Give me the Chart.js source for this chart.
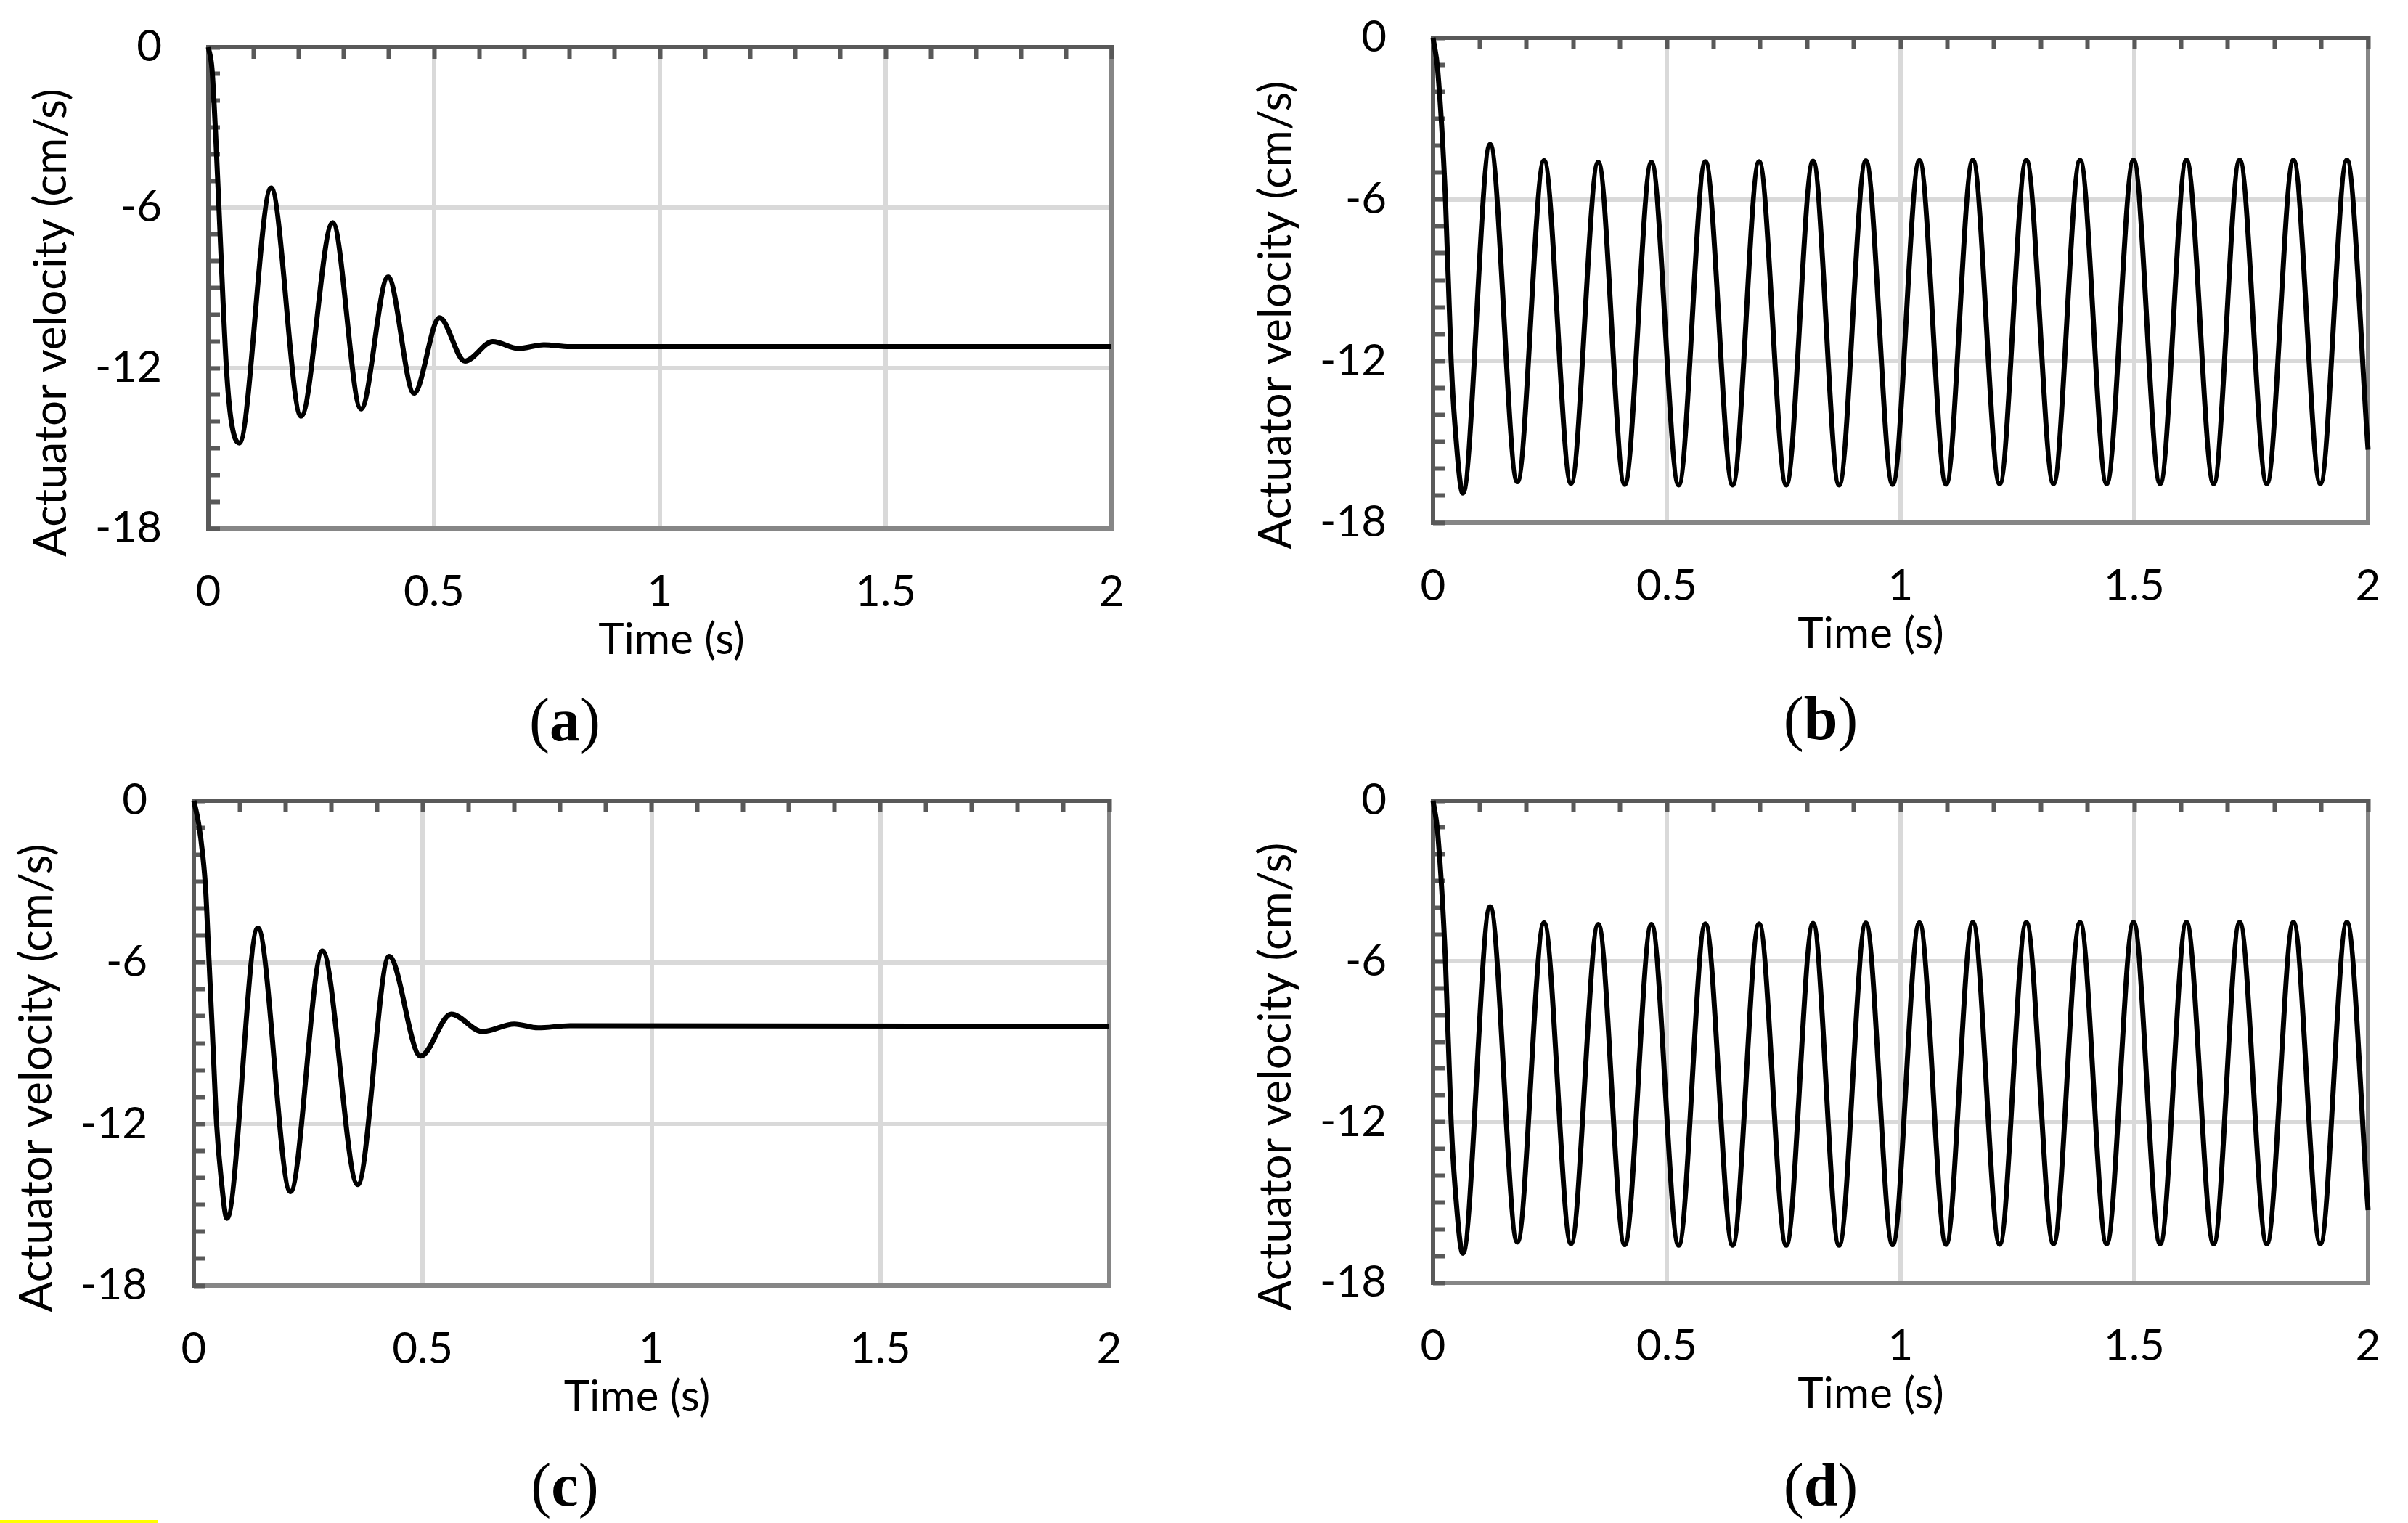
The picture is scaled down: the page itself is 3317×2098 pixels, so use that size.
<!DOCTYPE html>
<html><head><meta charset="utf-8">
<script src="https://cdn.jsdelivr.net/npm/chart.js@4.4.1/dist/chart.umd.min.js"></script>
<style>
html,body{margin:0;padding:0;background:#fff;}
body{width:3317px;height:2098px;position:relative;overflow:hidden;}
canvas{position:absolute;}
.lab{position:absolute;font-family:'Liberation Serif','Times New Roman',serif;font-size:84px;line-height:84px;white-space:nowrap;transform:translateX(-50%);color:#000;}
.mark{position:absolute;left:0;top:2094px;width:217px;height:4px;background:#ffff00;}
</style></head><body>
<div class="mark"></div>
<script>
// ---------- data ----------
const xTickValues = [0, 0.5, 1, 1.5, 2];
const yTickValues = [-18, -12, -6, 0];
const xTitle = 'Time (s)';
const yTitle = 'Actuator velocity (cm/s)';
const panelLetters = ['a', 'b', 'c', 'd'];

// (a)
const timeA = [0, 0.008, 0.016, 0.024, 0.032, 0.040, 0.050, 0.0685, 0.139, 0.2054, 0.2753, 0.338, 0.398, 0.4554, 0.512, 0.568, 0.630, 0.6866, 0.743, 0.80, 2.0];
const velA  = [0, -0.8, -3.2, -6.2, -9.3, -12.0, -13.9, -14.8, -5.27, -13.8, -6.56, -13.53, -8.59, -12.94, -10.12, -11.74, -11.01, -11.27, -11.13, -11.2, -11.2];

// (b)
const timeB = [0, 0.010, 0.0266, 0.0388, 0.047, 0.0638, 0.1221, 0.1803, 0.2374, 0.2951, 0.3534, 0.4100, 0.4671, 0.5254, 0.5825, 0.6408, 0.6974, 0.7556, 0.8128, 0.8686, 0.9258, 0.9830, 1.0403, 1.0975, 1.1545, 1.2120, 1.2690, 1.3271, 1.3840, 1.4409, 1.4983, 1.5552, 1.6116, 1.6696, 1.7254, 1.7834, 1.8403, 1.8978, 1.9547, 2.0];
const velB  = [0, -1.2, -6.0, -12.0, -14.4, -16.9, -3.96, -16.48, -4.56, -16.54, -4.62, -16.58, -4.62, -16.6, -4.6, -16.6, -4.6, -16.6, -4.58, -16.6, -4.57, -16.58, -4.56, -16.57, -4.55, -16.56, -4.55, -16.55, -4.55, -16.55, -4.54, -16.55, -4.54, -16.55, -4.54, -16.55, -4.54, -16.55, -4.54, -15.29];

// (c)
const timeC = [0, 0.0103, 0.0195, 0.0255, 0.0334, 0.042, 0.0498, 0.059, 0.0723, 0.1398, 0.211, 0.2809, 0.358, 0.4267, 0.4954, 0.5623, 0.6304, 0.7003, 0.752, 0.822, 2.0];
const velC  = [0, -0.83, -2.02, -3.2, -6.0, -9.14, -12.0, -13.9, -15.5, -4.73, -14.51, -5.58, -14.25, -5.78, -9.48, -7.92, -8.57, -8.29, -8.43, -8.35, -8.38];

// (d)
const timeD = [0, 0.010, 0.0266, 0.0388, 0.047, 0.0638, 0.1221, 0.1803, 0.2374, 0.2951, 0.3534, 0.4100, 0.4671, 0.5254, 0.5825, 0.6408, 0.6974, 0.7556, 0.8128, 0.8686, 0.9258, 0.9830, 1.0403, 1.0975, 1.1545, 1.2120, 1.2690, 1.3271, 1.3840, 1.4409, 1.4983, 1.5552, 1.6116, 1.6696, 1.7254, 1.7834, 1.8403, 1.8978, 1.9547, 2.0];
const velD  = [0, -1.2, -6.0, -12.0, -14.4, -16.9, -3.96, -16.48, -4.56, -16.54, -4.62, -16.58, -4.62, -16.6, -4.6, -16.6, -4.6, -16.6, -4.58, -16.6, -4.57, -16.58, -4.56, -16.57, -4.55, -16.56, -4.55, -16.55, -4.55, -16.55, -4.54, -16.55, -4.54, -16.55, -4.54, -16.55, -4.54, -16.55, -4.54, -15.29];

// ---------- layout (plot-area edges in page pixels) ----------
const layoutPanels = [
  {L: 287,  T: 65,   R: 1531, B: 728,  labX: 778,  labBase: 1019, xtShift: 16,  ytShift: 48},
  {L: 1974, T: 52,   R: 3262, B: 720,  labX: 2508, labBase: 1017, xtShift: -41, ytShift: 48},
  {L: 267,  T: 1103, R: 1528, B: 1771, labX: 778,  labBase: 2073, xtShift: -20, ytShift: 48},
  {L: 1974, T: 1103, R: 3262, B: 1767, labX: 2508, labBase: 2073, xtShift: -41, ytShift: 48}
];
const seriesList = [[timeA, velA], [timeB, velB], [timeC, velC], [timeD, velD]];

const FONT = {family: 'Lato', size: 60};
const TITLE_FONT = {family: 'Lato', size: 62};
const DARK = '#595959', LIGHT = '#868686', GRID = '#d9d9d9';
const fmt = v => String(Math.round(v * 100) / 100);

// shift a scale's own title by (dx, dy) when the library draws it
function shiftTitle(scale, dx, dy) {
  if (scale._titleShifted) return;
  const orig = scale.drawTitle;
  scale.drawTitle = function () {
    const c = this.ctx;
    c.save();
    c.translate(dx, dy);
    orig.call(this);
    c.restore();
  };
  scale._titleShifted = true;
}

function makeChart(p, times, vels) {
  const yW = 260, xH = 210, padT = 120, padR = 120;
  const w = p.R - p.L + yW + padR, h = p.B - p.T + padT + xH;
  const cv = document.createElement('canvas');
  cv.width = w; cv.height = h;
  cv.style.left = (p.L - yW) + 'px';
  cv.style.top = (p.T - padT) + 'px';
  cv.style.width = w + 'px';
  cv.style.height = h + 'px';
  document.body.appendChild(cv);
  const pts = times.map((t, i) => ({x: t, y: vels[i]}));
  new Chart(cv.getContext('2d'), {
    type: 'line',
    data: {datasets: [{data: pts, borderColor: '#000', borderWidth: 7, pointRadius: 0,
      cubicInterpolationMode: 'monotone', fill: false, clip: false}]},
    options: {
      responsive: false, animation: false, devicePixelRatio: 1,
      layout: {padding: {left: 0, top: padT, right: padR, bottom: 0}, autoPadding: false},
      plugins: {legend: {display: false}, tooltip: {enabled: false}, title: {display: false}},
      scales: {
        x: {
          type: 'linear', position: 'bottom', min: 0, max: 2,
          afterBuildTicks: s => { s.ticks = xTickValues.map(v => ({value: v})); },
          afterFit: s => { s.height = xH; shiftTitle(s, p.xtShift, 0); },
          grid: {color: GRID, lineWidth: 6, drawTicks: false},
          border: {display: true, color: LIGHT, width: 6},
          ticks: {padding: 52, color: '#000', font: FONT, maxRotation: 0, autoSkip: false, callback: fmt},
          title: {display: true, text: xTitle, color: '#000', font: FONT, padding: {top: 0, bottom: 20}}
        },
        y: {
          type: 'linear', position: 'left', weight: 1, min: -18, max: 0,
          afterBuildTicks: s => { s.ticks = yTickValues.slice().sort((a, b) => a - b).map(v => ({value: v})); },
          afterFit: s => { s.width = yW; shiftTitle(s, 0, p.ytShift); },
          grid: {color: GRID, lineWidth: 6, drawTicks: false},
          border: {display: true, color: DARK, width: 6},
          ticks: {padding: 64, color: '#000', font: FONT, autoSkip: false, callback: fmt},
          title: {display: true, text: yTitle, color: '#000', font: TITLE_FONT, padding: {top: 7, bottom: 0}}
        },
        x2: {
          type: 'linear', position: 'top', min: 0, max: 2,
          ticks: {display: false, stepSize: 0.1},
          afterFit: s => { s.height = 0; },
          grid: {drawOnChartArea: false, drawTicks: true, tickLength: -16, tickColor: DARK, tickWidth: 6, z: 0},
          border: {display: true, color: DARK, width: 6}
        },
        y2: {
          type: 'linear', position: 'left', weight: 0, min: -18, max: 0,
          ticks: {display: false, stepSize: 1},
          afterFit: s => { s.width = 0; },
          grid: {drawOnChartArea: false, drawTicks: true, tickLength: -16, tickColor: DARK, tickWidth: 6, z: 0},
          border: {display: false}
        },
        y3: {
          type: 'linear', position: 'right', min: -18, max: 0,
          ticks: {display: false},
          afterFit: s => { s.width = 0; },
          grid: {drawOnChartArea: false, drawTicks: false},
          border: {display: true, color: LIGHT, width: 6, z: -0.5}
        }
      }
    }
  });
  const lab = document.createElement('div');
  lab.className = 'lab';
  lab.style.left = p.labX + 'px';
  lab.style.top = (p.labBase - 69) + 'px';
  lab.innerHTML = '(<b>' + p.letter + '</b>)';
  document.body.appendChild(lab);
}

layoutPanels.forEach((p, i) => {
  p.letter = panelLetters[i];
  makeChart(p, seriesList[i][0], seriesList[i][1]);
});
</script>
</body></html>
